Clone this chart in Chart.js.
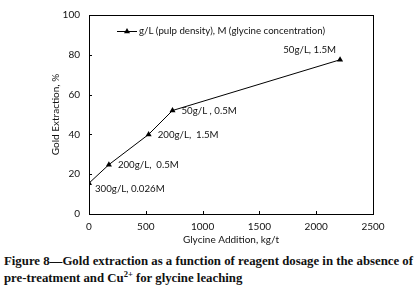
<!DOCTYPE html>
<html>
<head>
<meta charset="utf-8">
<script src="https://cdn.jsdelivr.net/npm/chart.js@4.4.0/dist/chart.umd.min.js"></script>
<style>
  body { margin: 0; background: #fff; width: 418px; height: 292px; overflow: hidden; }
  #wrap { position: relative; width: 418px; height: 250px; }
  .caption {
    font-family: "Liberation Serif", "DejaVu Serif", serif;
    font-weight: bold; font-size: 12.8px; line-height: 17px;
    margin: 3px 0 0 4px; color: #111; white-space: nowrap;
  }
  .caption sup { font-size: 8.5px; line-height: 0; }
</style>
</head>
<body>
<div id="wrap"><canvas id="goldChart" width="418" height="250"></canvas></div>
<div class="caption">Figure 8—Gold extraction as a function of reagent dosage in the absence of<br>pre-treatment and Cu<sup>2+</sup> for glycine leaching</div>
<script>
// glycine addition (kg/t) vs gold extraction (%)
const glycineAddition = [0, 175, 525, 735, 2210];
const goldExtraction = [15.5, 24.8, 40, 52, 77.5];
const pointLabels = ['300g/L, 0.026M', '200g/L,  0.5M', '200g/L,  1.5M', '50g/L , 0.5M', '50g/L, 1.5M'];
const xTicks = [0, 500, 1000, 1500, 2000, 2500];
const yTicks = [0, 20, 40, 60, 80, 100];
const legendText = 'g/L (pulp density), M (glycine concentration)';

const FONT = 'Lato, "Open Sans", sans-serif';

function drawTriangle(ctx, x, y, r) {
    ctx.beginPath();
    ctx.moveTo(x, y - r);
    ctx.lineTo(x + r, y + r * 0.75);
    ctx.lineTo(x - r, y + r * 0.75);
    ctx.closePath();
    ctx.fill();
}

// frame, inward ticks, titles, point labels and legend
const decorPlugin = {
    id: 'decor',
    afterDraw(chart) {
        const ctx = chart.ctx;
        const area = chart.chartArea;
        const xs = chart.scales.x;
        const ys = chart.scales.y;
        ctx.save();
        ctx.strokeStyle = '#000';
        ctx.lineWidth = 1;
        ctx.strokeRect(Math.round(area.left) + 0.5, Math.round(area.top) + 0.5,
            Math.round(area.right - area.left), Math.round(area.bottom - area.top));

        // inward tick marks
        ctx.beginPath();
        xTicks.forEach(v => {
            const px = Math.round(xs.getPixelForValue(v)) + 0.5;
            ctx.moveTo(px, area.bottom);
            ctx.lineTo(px, area.bottom - 3);
        });
        yTicks.forEach(v => {
            const py = Math.round(ys.getPixelForValue(v)) + 0.5;
            ctx.moveTo(area.left, py);
            ctx.lineTo(area.left + 3, py);
        });
        ctx.stroke();

        // axis titles
        ctx.fillStyle = '#111';
        ctx.font = '10px ' + FONT;
        ctx.textAlign = 'center';
        ctx.textBaseline = 'middle';
        ctx.fillText('Glycine Addition, kg/t', (area.left + area.right) / 2, 240);
        ctx.save();
        ctx.translate(56, (area.top + area.bottom) / 2);
        ctx.rotate(-Math.PI / 2);
        ctx.fillText('Gold Extraction, %', 0, 0);
        ctx.restore();

        // labels next to points
        ctx.font = '9.7px ' + FONT;
        pointLabels.forEach((txt, i) => {
            const px = xs.getPixelForValue(glycineAddition[i]);
            const py = ys.getPixelForValue(goldExtraction[i]);
            if (i === 0) {
                ctx.textAlign = 'left';
                ctx.fillText(txt, px + 6, py + 6);
            } else if (i === pointLabels.length - 1) {
                ctx.textAlign = 'right';
                ctx.fillText(txt, px - 4, py - 10);
            } else {
                ctx.textAlign = 'left';
                ctx.fillText(txt, px + 9, py);
            }
        });

        // legend
        const ly = area.top + 16;
        ctx.beginPath();
        ctx.moveTo(117, ly + 0.5);
        ctx.lineTo(137, ly + 0.5);
        ctx.stroke();
        ctx.fillStyle = '#000';
        drawTriangle(ctx, 127, ly, 3);
        ctx.fillStyle = '#111';
        ctx.textAlign = 'left';
        ctx.fillText(legendText, 139, ly);
        ctx.restore();
    }
};

new Chart(document.getElementById('goldChart'), {
    type: 'line',
    data: {
        datasets: [{
            label: legendText,
            data: glycineAddition.map((x, i) => ({ x: x, y: goldExtraction[i] })),
            borderColor: '#000',
            borderWidth: 1,
            backgroundColor: '#000',
            pointStyle: 'triangle',
            pointRadius: 3.5,
            pointBorderWidth: 0,
            tension: 0
        }]
    },
    options: {
        responsive: false,
        animation: false,
        devicePixelRatio: 1,
        layout: { padding: { top: 11, right: 45, left: 0, bottom: 0 } },
        plugins: { legend: { display: false }, tooltip: { enabled: false } },
        scales: {
            x: {
                type: 'linear',
                min: 0,
                max: 2500,
                afterFit: scale => { scale.height = 36; },
                afterBuildTicks: scale => { scale.ticks = xTicks.map(v => ({ value: v })); },
                grid: { display: false, drawTicks: false },
                border: { display: false },
                ticks: {
                    color: '#111', padding: 7, font: { family: FONT, size: 10 },
                    callback: value => String(value)
                }
            },
            y: {
                min: 0,
                max: 100,
                afterFit: scale => { scale.width = 89; },
                afterBuildTicks: scale => { scale.ticks = yTicks.map(v => ({ value: v })); },
                grid: { display: false, drawTicks: false },
                border: { display: false },
                ticks: {
                    color: '#111', padding: 9, font: { family: FONT, size: 10 },
                    callback: value => String(value)
                }
            }
        }
    },
    plugins: [decorPlugin]
});
</script>
</body>
</html>
